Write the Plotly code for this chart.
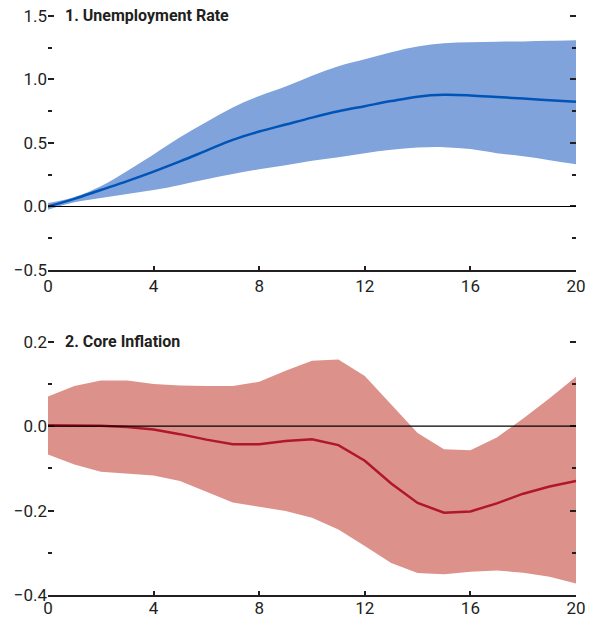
import plotly.graph_objects as go

quarters = list(range(21))

# Panel 1: Unemployment Rate
unemp_mean = [0.0, 0.06, 0.13, 0.20, 0.275, 0.355, 0.44, 0.525, 0.59, 0.645, 0.70,
              0.75, 0.79, 0.83, 0.865, 0.879, 0.874, 0.862, 0.85, 0.837, 0.824]
unemp_upper = [0.027, 0.075, 0.16, 0.28, 0.41, 0.545, 0.665, 0.78, 0.87, 0.945, 1.03,
               1.105, 1.16, 1.215, 1.26, 1.285, 1.293, 1.297, 1.30, 1.305, 1.309]
unemp_lower = [-0.025, 0.033, 0.066, 0.098, 0.13, 0.17, 0.215, 0.255, 0.293, 0.325, 0.36,
               0.388, 0.42, 0.447, 0.464, 0.467, 0.452, 0.42, 0.395, 0.365, 0.332]

# Panel 2: Core Inflation
infl_mean = [0.002, 0.002, 0.001, -0.002, -0.008, -0.019, -0.032, -0.043, -0.043, -0.035, -0.031,
             -0.045, -0.082, -0.136, -0.182, -0.205, -0.202, -0.183, -0.160, -0.143, -0.130]
infl_upper = [0.070, 0.095, 0.108, 0.108, 0.100, 0.096, 0.095, 0.095, 0.105, 0.131, 0.155,
              0.158, 0.119, 0.052, -0.016, -0.055, -0.057, -0.027, 0.018, 0.066, 0.117]
infl_lower = [-0.067, -0.091, -0.108, -0.113, -0.117, -0.130, -0.156, -0.181, -0.191, -0.201, -0.217,
              -0.245, -0.284, -0.324, -0.348, -0.351, -0.345, -0.342, -0.347, -0.357, -0.373]

titles = ["1. Unemployment Rate", "2. Core Inflation"]
x_ticks = [0, 4, 8, 12, 16, 20]
y1_ticks = [-0.5, 0, 0.5, 1.0, 1.5]
y1_labels = ["\u22120.5", "0.0", "0.5", "1.0", "1.5"]
y2_ticks = [-0.4, -0.2, 0, 0.2]
y2_labels = ["\u22120.4", "\u22120.2", "0.0", "0.2"]

BLUE_BAND = "#7FA3DA"
BLUE_LINE = "#0054B8"
RED_BAND = "#DC918B"
RED_LINE = "#B0172C"
TXT = "#231F20"
FONT = "Roboto, Liberation Sans, sans-serif"

fig = go.Figure()

def add_panel(xa, ya, lower, upper, mean, band, line, shape):
    fig.add_trace(go.Scatter(x=quarters, y=lower, mode="lines", line=dict(width=0, color=band, shape=shape),
                             xaxis=xa, yaxis=ya, showlegend=False, hoverinfo="skip"))
    fig.add_trace(go.Scatter(x=quarters, y=upper, mode="lines", line=dict(width=0, color=band, shape=shape),
                             fill="tonexty", fillcolor=band, xaxis=xa, yaxis=ya,
                             showlegend=False, hoverinfo="skip"))
    fig.add_trace(go.Scatter(x=quarters, y=mean, mode="lines", line=dict(width=2.5, color=line, shape=shape),
                             xaxis=xa, yaxis=ya, showlegend=False))

add_panel("x", "y", unemp_lower, unemp_upper, unemp_mean, BLUE_BAND, BLUE_LINE, "spline")
add_panel("x2", "y2", infl_lower, infl_upper, infl_mean, RED_BAND, RED_LINE, "linear")

def xcommon(standoff):
    return dict(range=[0, 20], tickvals=x_ticks, ticks="inside", ticklen=4,
                tickwidth=2, tickcolor=TXT, showline=True, linecolor=TXT, linewidth=2,
                showgrid=False, zeroline=False, automargin=False,
                ticklabeloverflow="allow", ticklabelstandoff=standoff,
                tickfont=dict(size=17, color=TXT, family=FONT))

def ycommon(dtick_minor):
    return dict(ticks="inside", ticklen=6, tickwidth=2, tickcolor=TXT, mirror="ticks",
                showline=False, showgrid=False, zeroline=False, automargin=False,
                ticklabeloverflow="allow",
                minor=dict(dtick=dtick_minor, tick0=0, ticks="inside", ticklen=4, tickwidth=2,
                           tickcolor=TXT, showgrid=False),
                tickfont=dict(size=17, color=TXT, family=FONT))

fig.update_layout(
    width=595, height=617,
    margin=dict(l=48, r=19, t=14, b=22),
    paper_bgcolor="white", plot_bgcolor="white",
    font=dict(family=FONT, color=TXT),
    xaxis=dict(domain=[0, 1], anchor="y", **xcommon(0)),
    xaxis2=dict(domain=[0, 1], anchor="y2", **xcommon(-3)),
    yaxis=dict(domain=[0.5594, 1], anchor="x", range=[-0.5, 1.5157], tickvals=y1_ticks,
               ticktext=y1_labels, **ycommon(0.25)),
    yaxis2=dict(domain=[0, 0.4394], anchor="x2", range=[-0.4, 0.2047], tickvals=y2_ticks,
                ticktext=y2_labels, **ycommon(0.1)),
)

for xr, yr in [("x", "y"), ("x2", "y2")]:
    fig.add_shape(type="line", xref=f"{xr} domain", yref=yr, x0=0, x1=1, y0=0, y1=0,
                  line=dict(color="black", width=1.2), layer="above")

fig.add_annotation(text="<b>" + titles[0] + "</b>", xref="x domain", yref="y", x=0.028, y=1.5,
                   xanchor="left", yanchor="middle", showarrow=False,
                   font=dict(size=16, color=TXT, family=FONT))
fig.add_annotation(text="<b>" + titles[1] + "</b>", xref="x2 domain", yref="y2", x=0.028, y=0.2,
                   xanchor="left", yanchor="middle", showarrow=False,
                   font=dict(size=16, color=TXT, family=FONT))

fig.write_html("out.html", config={"displayModeBar": False},
               post_script="document.body.style.margin='0';document.body.style.overflow='hidden';")
